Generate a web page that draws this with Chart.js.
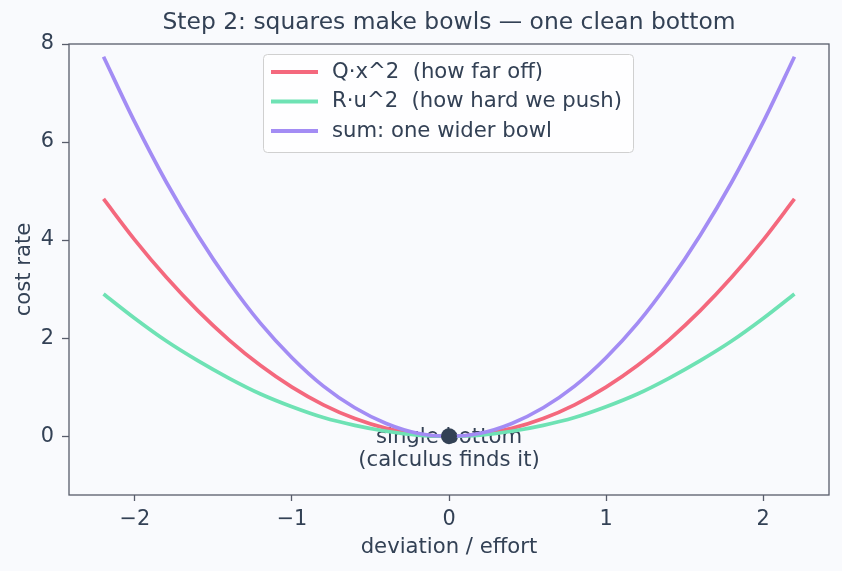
<!DOCTYPE html>
<html>
<head>
<meta charset="utf-8">
<script src="https://cdn.jsdelivr.net/npm/chart.js@4/dist/chart.umd.min.js"></script>
<style>
  html, body { margin: 0; padding: 0; background: #f9fafd; }
  #wrap { width: 842px; height: 571px; }
</style>
</head>
<body>
<div id="wrap"><canvas id="chart" width="842" height="571"></canvas></div>
<script>
  // values
  var xs = [-2.2, -2.0, -1.8, -1.6, -1.4, -1.2, -1.0, -0.8, -0.6, -0.4, -0.2, 0,
            0.2, 0.4, 0.6, 0.8, 1.0, 1.2, 1.4, 1.6, 1.8, 2.0, 2.2]
  var costQ = [4.84, 4.0, 3.24, 2.56, 1.96, 1.44, 1.0, 0.64, 0.36, 0.16, 0.04, 0,
               0.04, 0.16, 0.36, 0.64, 1.0, 1.44, 1.96, 2.56, 3.24, 4.0, 4.84]
  var costR = [2.9, 2.4, 1.94, 1.54, 1.18, 0.86, 0.6, 0.38, 0.22, 0.1, 0.02, 0,
               0.02, 0.1, 0.22, 0.38, 0.6, 0.86, 1.18, 1.54, 1.94, 2.4, 2.9]
  var costSum = [7.74, 6.4, 5.18, 4.1, 3.14, 2.3, 1.6, 1.02, 0.58, 0.26, 0.06, 0,
                 0.06, 0.26, 0.58, 1.02, 1.6, 2.3, 3.14, 4.1, 5.18, 6.4, 7.74]
  var bottomPoint = [{ x: 0, y: 0 }]
  var xTicks = [-2, -1, 0, 1, 2]
  var yTicks = [0, 2, 4, 6, 8]

  var ink = '#334155'
  var spine = '#585d6b'
  var fontFam = '"DejaVu Sans", sans-serif'
  var txtSize = 21.2

  function pts(ys) {
    return xs.map(function (x, i) { return { x: x, y: ys[i] } })
  }
  function minus(v) {
    return v < 0 ? '\u2212' + Math.abs(v) : String(v)
  }

  var series = [
    { label: 'Q\u00b7x^2  (how far off)', data: costQ, color: '#f4687d', order: 3 },
    { label: 'R\u00b7u^2  (how hard we push)', data: costR, color: '#6ee2b4', order: 2 },
    { label: 'sum: one wider bowl', data: costSum, color: '#a38cf4', order: 1 }
  ]

  var extras = {
    id: 'extras',
    beforeDraw: function (chart) {
      var c = chart.ctx
      c.save()
      c.fillStyle = '#f9fafd'
      c.fillRect(0, 0, chart.width, chart.height)
      c.fillStyle = ink
      c.font = '23.4px ' + fontFam
      c.textAlign = 'center'
      c.textBaseline = 'middle'
      var a = chart.chartArea
      c.fillText('Step 2: squares make bowls \u2014 one clean bottom', (a.left + a.right) / 2, 23)
      c.restore()
    },
    beforeDatasetsDraw: function (chart) {
      var c = chart.ctx
      var sx = chart.scales.x, sy = chart.scales.y
      c.save()
      c.fillStyle = ink
      c.font = txtSize + 'px ' + fontFam
      c.textAlign = 'center'
      c.textBaseline = 'middle'
      var px = sx.getPixelForValue(0), py = sy.getPixelForValue(0)
      c.fillText('single bottom', px, py + 1)
      c.fillText('(calculus finds it)', px, py + 24)
      c.restore()
    },
    afterDraw: function (chart) {
      var c = chart.ctx
      var a = chart.chartArea
      c.save()
      // frame
      c.strokeStyle = spine
      c.lineWidth = 1.3
      c.strokeRect(a.left, a.top, a.right - a.left, a.bottom - a.top)
      // legend
      var lx = 263, ly = 54, lw = 370, lh = 98
      c.fillStyle = 'rgba(255,255,255,0.8)'
      c.strokeStyle = '#d0d0d0'
      c.lineWidth = 1
      c.beginPath()
      c.roundRect(lx + 0.5, ly + 0.5, lw, lh, 4)
      c.fill()
      c.stroke()
      c.font = txtSize + 'px ' + fontFam
      c.textBaseline = 'middle'
      c.textAlign = 'left'
      series.forEach(function (s, i) {
        var y = ly + 18 + i * 29.5
        c.strokeStyle = s.color
        c.lineWidth = 4
        c.beginPath()
        c.moveTo(lx + 8, y)
        c.lineTo(lx + 55, y)
        c.stroke()
        c.fillStyle = ink
        c.fillText(s.label, lx + 69, y)
      })
      c.restore()
    }
  }

  var datasets = series.map(function (s) {
    return {
      label: s.label,
      data: pts(s.data),
      borderColor: s.color,
      backgroundColor: s.color,
      borderWidth: 3.7,
      pointRadius: 0,
      cubicInterpolationMode: 'monotone',
      order: s.order
    }
  })
  datasets.push({
    type: 'scatter',
    label: 'bottom',
    data: bottomPoint,
    pointRadius: 8,
    pointBackgroundColor: ink,
    pointBorderWidth: 0,
    order: 0
  })

  var ctx = document.getElementById('chart')
  var chart = new Chart(ctx, {
    type: 'line',
    data: { datasets: datasets },
    options: {
      responsive: false,
      animation: false,
      layout: { padding: { top: 44, right: 13, left: 0, bottom: 0 } },
      plugins: {
        legend: { display: false },
        title: { display: false },
        tooltip: { enabled: false }
      },
      scales: {
        x: {
          type: 'linear',
          min: -2.42,
          max: 2.42,
          afterBuildTicks: function (s) { s.ticks = xTicks.map(function (v) { return { value: v } }) },
          afterFit: function (s) { s.height = 76 },
          grid: { drawOnChartArea: false, tickLength: 6, color: spine, tickWidth: 1.3 },
          border: { display: false },
          ticks: {
            color: ink, font: { family: fontFam, size: 20.8 }, padding: 6,
            maxRotation: 0,
            callback: function (v) { return minus(v) }
          },
          title: {
            display: true, text: 'deviation / effort', color: ink,
            font: { family: fontFam, size: txtSize }, padding: { top: 0, bottom: 11 }
          }
        },
        y: {
          type: 'linear',
          min: -1.2,
          max: 8,
          afterBuildTicks: function (s) { s.ticks = yTicks.map(function (v) { return { value: v } }) },
          afterFit: function (s) { s.width = 69 },
          grid: { drawOnChartArea: false, tickLength: 7, color: spine, tickWidth: 1.3 },
          border: { display: false },
          ticks: {
            color: ink, font: { family: fontFam, size: 20.8 }, padding: 8,
            callback: function (v) { return minus(v) }
          },
          title: {
            display: true, text: 'cost rate', color: ink,
            font: { family: fontFam, size: txtSize }, padding: { top: 12, bottom: 0 }
          }
        }
      }
    },
    plugins: [extras]
  })
</script>
</body>
</html>
